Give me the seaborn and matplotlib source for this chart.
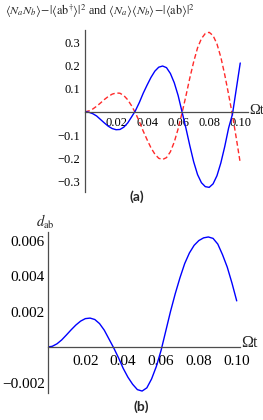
# Two stacked Mathematica-style panels: correlations (a) and d_ab (b) vs Omega t

import matplotlib
matplotlib.use('Agg')
import matplotlib.pyplot as plt
from matplotlib.ticker import MultipleLocator, FixedLocator, FuncFormatter
import pandas as pd
import seaborn as sns

# Omega t grid
omega_t = [0.0, 0.0025, 0.005, 0.0075, 0.01, 0.0125, 0.015, 0.0175, 0.02, 0.0225,
           0.025, 0.0275, 0.03, 0.0325, 0.035, 0.0375, 0.04, 0.0425, 0.045, 0.0475,
           0.05, 0.0525, 0.055, 0.0575, 0.06, 0.0625, 0.065, 0.0675, 0.07, 0.0725,
           0.075, 0.0775, 0.08, 0.0825, 0.085, 0.0875, 0.09, 0.0925, 0.095, 0.0975, 0.1]

# panel (a), solid blue: <NaNb> - |<ab+>|^2
corr_solid = [0.0, -0.002, -0.008, -0.018, -0.033, -0.048, -0.062, -0.072, -0.077, -0.076,
              -0.066, -0.048, -0.022, 0.005, 0.04, 0.08, 0.115, 0.148, 0.175, 0.192,
              0.197, 0.19, 0.165, 0.125, 0.07, 0.0, -0.07, -0.145, -0.215, -0.27,
              -0.305, -0.322, -0.325, -0.31, -0.275, -0.22, -0.15, -0.07, -0.01, 0.1, 0.21]

# panel (a), dashed red: <Na><Nb> - |<ab>|^2
corr_dashed = [0.0, 0.004, 0.012, 0.024, 0.038, 0.053, 0.066, 0.076, 0.081, 0.08,
               0.07, 0.052, 0.026, -0.005, -0.042, -0.083, -0.12, -0.155, -0.182, -0.2,
               -0.205, -0.197, -0.172, -0.13, -0.073, -0.005, 0.068, 0.145, 0.215, 0.275,
               0.315, 0.337, 0.342, 0.328, 0.292, 0.235, 0.16, 0.075, -0.015, -0.115, -0.22]

# panel (b): d_ab
d_ab = [0.0, 0.00004, 0.00018, 0.0004, 0.00068, 0.00097, 0.00124, 0.00146, 0.0016, 0.00163,
        0.00155, 0.00132, 0.00095, 0.00045, -0.00005, -0.0006, -0.0012, -0.0017, -0.0021, -0.0024,
        -0.00248, -0.0023, -0.0018, -0.0011, -0.0002, 0.0009, 0.002, 0.003, 0.0039, 0.0047,
        0.0053, 0.00573, 0.006, 0.00615, 0.0062, 0.00612, 0.0058, 0.0052, 0.0045, 0.0036, 0.0026]

x_ticks = [0.02, 0.04, 0.06, 0.08, 0.10]
a_yticks = [-0.3, -0.2, -0.1, 0.1, 0.2, 0.3]
b_yticks = [-0.002, 0.002, 0.004, 0.006]

df = pd.DataFrame({'Ωt': omega_t, 'solid': corr_solid, 'dashed': corr_dashed, 'd': d_ab})

sns.set_theme(style='white')
plt.rcParams['font.family'] = ['Liberation Serif', 'DejaVu Serif']
plt.rcParams['mathtext.fontset'] = 'stix'

W, H = 263, 420
fig = plt.figure(figsize=(W / 100, H / 100), dpi=100)

axis_col = '#4d4d4d'


def px_rect(left, top, right, bottom):
    return [left / W, 1 - bottom / H, (right - left) / W, (bottom - top) / H]


def mathematica_axes(ax, fsize, ypad, xpad, yfmt):
    for s in ['top', 'right']:
        ax.spines[s].set_visible(False)
    ax.spines['bottom'].set_position(('data', 0))
    for s in ['left', 'bottom']:
        ax.spines[s].set_color(axis_col)
        ax.spines[s].set_linewidth(0.9)
    ax.tick_params(which='both', direction='in', color=axis_col, width=0.7,
                   labelsize=fsize, labelcolor='black')
    ax.tick_params(which='major', length=3.5)
    ax.tick_params(which='minor', length=2)
    ax.tick_params(axis='y', pad=ypad)
    ax.tick_params(axis='x', pad=xpad)
    ax.xaxis.set_major_locator(FixedLocator(x_ticks))
    ax.xaxis.set_minor_locator(MultipleLocator(0.005))
    ax.xaxis.set_major_formatter(FuncFormatter(lambda v, p: f'{v:.2f}'))
    ax.yaxis.set_major_formatter(FuncFormatter(lambda v, p: (yfmt % v).replace('-', '\u2212')))
    ax.set_xlabel('')
    ax.set_ylabel('')
    ax.grid(False)


# ---- panel (a)
ax1 = fig.add_axes(px_rect(85, 30, 248, 192))
sns.lineplot(data=df, x='Ωt', y='dashed', ax=ax1, color='#FF2A2A',
             linestyle=(0, (3.5, 2)), linewidth=1.0)
sns.lineplot(data=df, x='Ωt', y='solid', ax=ax1, color='#0000FF', linewidth=1.0)
ax1.set_xlim(0, 0.105)
ax1.set_ylim(-0.345, 0.352)
mathematica_axes(ax1, 9, 3.5, 3.5, '%.1f')
ax1.yaxis.set_major_locator(FixedLocator(a_yticks))
ax1.yaxis.set_minor_locator(MultipleLocator(0.02))
ax1.text(0.1055, 0.004, 'Ωt', fontsize=10.5, ha='left', va='center')

fig.text(5 / W, 1 - 11 / H,
         r'$\langle N_a N_b\rangle\!-\!|\langle \mathrm{ab}^{\dagger}\rangle|^2$ and '
         r'$\langle N_a\rangle\langle N_b\rangle\!-\!|\langle \mathrm{ab}\rangle|^2$',
         fontsize=8.7, ha='left', va='center')
fig.text(137 / W, 1 - 197 / H, '(a)', fontsize=10, fontweight='bold',
         family='Lato', ha='center', va='center')

# ---- panel (b)
ax2 = fig.add_axes(px_rect(47.5, 232, 240.5, 393))
sns.lineplot(data=df, x='Ωt', y='d', ax=ax2, color='#0000FF', linewidth=1.0)
ax2.set_xlim(0, 0.102)
ax2.set_ylim(-0.00259, 0.00648)
mathematica_axes(ax2, 11, 2, 6, '%.3f')
ax2.yaxis.set_major_locator(FixedLocator(b_yticks))
ax2.yaxis.set_minor_locator(MultipleLocator(0.0005))
ax2.text(0.1025, 0.0002, 'Ωt', fontsize=11.5, ha='left', va='center')

fig.text(45 / W, 1 - 222 / H, r'$d_{\mathrm{ab}}$', fontsize=10.5, ha='center', va='center')
fig.text(141 / W, 1 - 407 / H, '(b)', fontsize=10, fontweight='bold',
         family='Lato', ha='center', va='center')

fig.savefig('out.png', dpi=100)
